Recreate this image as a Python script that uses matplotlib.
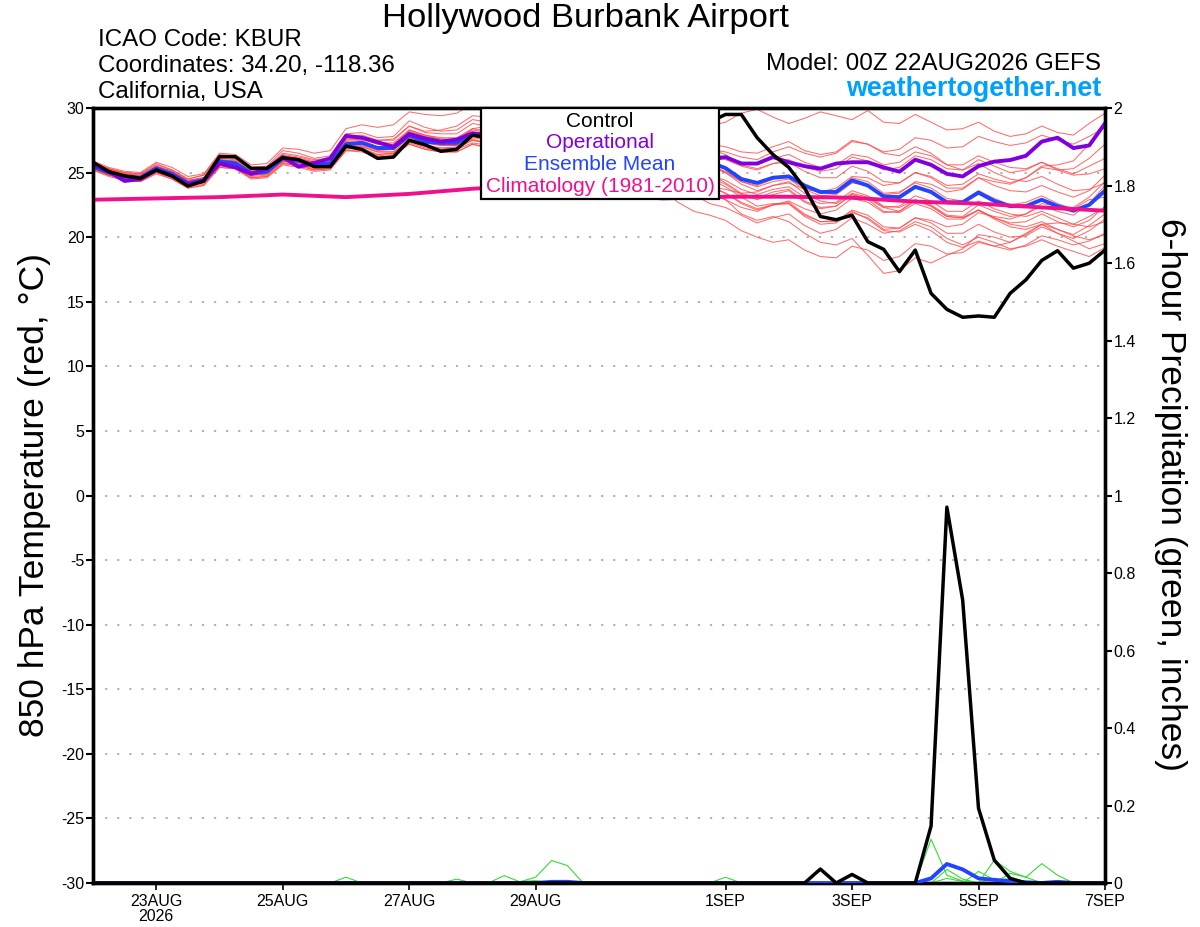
import numpy as np
import pandas as pd
import matplotlib
matplotlib.use('Agg')
import matplotlib.pyplot as plt
from matplotlib.patches import Rectangle

plt.rcParams['font.family'] = ['Liberation Sans', 'DejaVu Sans']

# ---------------- data ----------------
times = pd.date_range('2026-08-22 00:00', periods=65, freq='6h')
clim_times = pd.date_range('2026-08-22', periods=17, freq='D')

tick_dates = pd.to_datetime(['2026-08-23', '2026-08-25', '2026-08-27', '2026-08-29',
                             '2026-09-01', '2026-09-03', '2026-09-05', '2026-09-07'])
tick_labels = ['23AUG\n2026', '25AUG', '27AUG', '29AUG', '1SEP', '3SEP', '5SEP', '7SEP']

temp_ticks = [-30, -25, -20, -15, -10, -5, 0, 5, 10, 15, 20, 25, 30]
precip_ticks = [0, 0.2, 0.4, 0.6, 0.8, 1.0, 1.2, 1.4, 1.6, 1.8, 2.0]
precip_tick_labels = ['0', '0.2', '0.4', '0.6', '0.8', '1', '1.2', '1.4', '1.6', '1.8', '2']

control_temp = [25.8, 25.07, 24.74, 24.56, 25.2, 24.74, 23.96, 24.35, 26.23, 26.23, 25.33, 25.33, 26.15,
                26.0, 25.46, 25.46, 27.05, 26.8, 26.1, 26.2, 27.5, 27.15, 26.65, 26.8, 27.9, 27.7,
                27.3, 27.6, 28.2, 27.8, 27.6, 28.1, 28.5, 28.3, 28.6, 28.9, 29.0, 28.7, 28.9,
                28.9, 29.5, 29.5, 27.7, 26.4, 25.4, 23.8, 21.6, 21.35, 21.7, 19.65, 19.06, 17.33,
                19.0, 15.65, 14.41, 13.8, 13.9, 13.8, 15.65, 16.7, 18.2, 18.95, 17.6, 17.98, 19.0]

operational_temp = [25.6, 25.07, 24.35, 24.5, 25.2, 24.75, 24.1, 24.35, 25.7, 25.4, 24.9, 25.3, 26.2,
                    25.45, 25.75, 26.1, 27.85, 27.7, 27.35, 27.0, 28.0, 27.65, 27.4, 27.55, 28.05, 27.9,
                    27.6, 27.8, 28.1, 27.7, 27.5, 27.8, 28.0, 27.6, 27.2, 27.0, 26.8, 26.4, 26.1,
                    26.0, 26.2, 25.7, 25.7, 26.2, 25.8, 25.5, 25.3, 25.7, 25.8, 25.8, 25.4, 25.07,
                    26.0, 25.6, 24.9, 24.7, 25.5, 25.85, 25.97, 26.3, 27.4, 27.7, 26.9, 27.1, 28.8]

ens_mean_temp = [25.46, 25.0, 24.7, 24.6, 25.33, 24.9, 24.17, 24.43, 25.85, 25.72, 24.94, 25.07, 26.1,
                 25.92, 25.59, 25.72, 27.2, 27.3, 26.9, 26.9, 27.9, 27.4, 27.3, 27.3, 28.0, 27.8,
                 27.4, 27.5, 27.9, 27.3, 27.1, 27.3, 27.6, 27.0, 26.8, 26.9, 27.2, 26.6, 26.3,
                 25.8, 25.35, 24.5, 24.2, 24.6, 24.7, 24.0, 23.5, 23.5, 24.4, 24.0, 23.15, 23.1,
                 23.9, 23.5, 22.7, 22.7, 23.45, 22.8, 22.4, 22.4, 22.9, 22.4, 22.05, 22.5, 23.6]

climatology_temp = [22.9, 23.0, 23.1, 23.3, 23.1, 23.35, 23.75, 24.0, 23.5, 23.0, 23.13, 23.13,
                    23.05, 22.75, 22.6, 22.3, 22.05]

member_temps = [
    [25.7, 25.3, 25.0, 24.9, 25.7, 25.2, 24.5, 24.8, 26.4, 26.3, 25.4, 25.5, 26.7,
     26.5, 26.1, 26.3, 28.0, 28.1, 27.7, 27.8, 29.0, 28.5, 28.2, 28.3, 29.1, 28.9,
     28.5, 28.7, 29.2, 28.6, 28.4, 28.7, 29.3, 28.8, 28.6, 28.9, 29.5, 29.1, 28.9,
     28.6, 28.9, 29.6, 29.9, 29.3, 28.8, 29.2, 29.7, 29.4, 29.1, 29.8, 28.9, 28.8,
     29.5, 28.9, 28.3, 28.4, 28.9, 28.2, 27.8, 28.0, 28.6, 28.1, 27.9, 28.8, 29.6],
    [25.4, 24.9, 24.6, 24.5, 25.1, 24.8, 24.0, 24.3, 25.6, 25.5, 24.8, 24.9, 25.9,
     25.8, 25.5, 25.6, 27.5, 27.6, 27.2, 27.0, 28.3, 27.9, 27.6, 27.5, 28.4, 28.6,
     28.2, 28.0, 28.6, 28.1, 27.7, 27.9, 28.4, 27.8, 27.2, 27.0, 27.3, 26.6, 26.1,
     25.6, 25.0, 24.1, 23.6, 24.0, 24.3, 23.4, 22.8, 22.6, 23.4, 23.1, 22.3, 22.0,
     22.9, 22.5, 21.7, 21.6, 22.5, 22.0, 21.6, 21.8, 22.4, 22.0, 21.7, 22.6, 24.0],
    [25.5, 25.1, 24.8, 24.6, 25.4, 25.0, 24.3, 24.5, 26.0, 25.8, 25.0, 25.1, 26.2,
     26.0, 25.7, 25.8, 27.0, 27.1, 26.7, 26.8, 27.7, 27.3, 27.1, 27.1, 27.8, 27.5,
     27.2, 27.3, 27.6, 27.0, 26.9, 27.1, 27.3, 26.8, 26.5, 26.7, 27.0, 26.4, 26.0,
     25.5, 25.0, 24.3, 24.0, 24.5, 24.8, 23.9, 23.4, 23.6, 24.6, 24.3, 23.4, 23.5,
     24.2, 23.8, 23.0, 22.8, 23.6, 23.0, 22.5, 22.7, 23.2, 22.6, 22.2, 22.9, 23.1],
    [25.3, 24.8, 24.5, 24.4, 25.0, 24.6, 23.9, 24.1, 25.5, 25.4, 24.6, 24.7, 25.7,
     25.6, 25.2, 25.3, 26.8, 26.9, 26.4, 26.5, 27.4, 27.0, 26.8, 26.9, 27.5, 27.3,
     26.9, 27.0, 27.3, 26.7, 26.4, 26.6, 26.9, 26.2, 25.7, 25.5, 25.6, 24.8, 24.2,
     23.5, 22.9, 21.8, 21.3, 21.6, 21.2, 20.3, 19.6, 19.4, 19.9, 18.6, 17.2, 17.4,
     18.4, 18.0, 18.6, 19.1, 20.2, 20.0, 19.6, 20.3, 21.0, 20.6, 20.2, 20.9, 21.8],
    [25.6, 25.0, 24.6, 24.4, 25.2, 24.7, 24.0, 24.2, 25.7, 25.5, 24.8, 24.9, 25.9,
     25.7, 25.4, 25.5, 27.1, 27.0, 26.6, 26.6, 27.6, 27.1, 26.9, 27.0, 27.6, 27.2,
     26.8, 26.6, 26.9, 26.1, 25.8, 25.9, 26.0, 25.2, 24.7, 24.6, 24.7, 23.9, 23.3,
     22.6, 22.3, 21.7, 21.1, 21.5, 21.8, 20.9, 20.3, 20.6, 21.5, 21.0, 20.3, 20.5,
     21.2, 20.8, 19.9, 19.4, 20.0, 19.6, 19.1, 19.3, 19.8, 19.3, 18.9, 18.5, 19.2],
    [25.8, 25.3, 24.9, 24.8, 25.5, 25.1, 24.4, 24.6, 26.1, 26.0, 25.2, 25.3, 26.3,
     26.1, 25.8, 26.0, 27.7, 27.8, 27.5, 27.6, 28.6, 28.2, 28.3, 28.6, 29.4, 29.3,
     29.0, 29.3, 29.8, 29.4, 29.0, 29.2, 29.5, 28.8, 28.3, 28.1, 28.2, 27.6, 27.0,
     26.4, 26.0, 25.5, 25.2, 25.7, 26.0, 25.4, 25.1, 25.3, 26.2, 25.9, 25.2, 25.4,
     26.3, 26.0, 25.3, 25.2, 26.0, 25.5, 25.0, 25.2, 25.8, 25.3, 24.9, 25.5, 26.1],
    [25.3, 24.8, 24.5, 24.4, 25.1, 24.7, 24.0, 24.2, 25.6, 25.4, 24.7, 24.8, 25.8,
     25.6, 25.3, 25.4, 26.9, 26.8, 26.4, 26.5, 27.3, 26.9, 26.7, 26.8, 27.3, 27.1,
     26.6, 26.8, 27.0, 26.4, 26.2, 26.4, 26.6, 26.0, 25.7, 25.8, 26.1, 25.5, 25.1,
     24.6, 24.1, 23.3, 22.9, 23.3, 23.6, 22.7, 22.2, 22.4, 23.3, 22.9, 22.0, 21.9,
     22.6, 22.2, 21.4, 21.4, 22.1, 21.5, 21.1, 21.2, 21.8, 21.2, 20.8, 21.3, 22.4],
    [25.6, 25.1, 24.8, 24.7, 25.4, 25.0, 24.3, 24.5, 25.9, 25.8, 25.1, 25.2, 26.2,
     26.0, 25.7, 25.8, 27.4, 27.5, 27.0, 27.1, 28.0, 27.6, 27.4, 27.4, 28.1, 27.9,
     27.5, 27.6, 28.0, 27.4, 27.2, 27.4, 27.7, 27.1, 26.8, 26.9, 27.1, 26.5, 26.1,
     25.5, 25.1, 24.3, 23.9, 24.3, 24.5, 23.7, 23.2, 23.3, 24.2, 24.0, 23.3, 23.4,
     24.3, 24.1, 23.5, 23.7, 24.6, 24.3, 24.1, 24.6, 25.5, 25.6, 25.9, 27.2, 29.0],
    [25.4, 25.0, 24.7, 24.5, 25.2, 24.8, 24.1, 24.3, 25.8, 25.6, 24.9, 25.0, 26.0,
     25.8, 25.5, 25.6, 27.2, 27.2, 26.8, 26.8, 27.8, 27.3, 27.2, 27.2, 27.9, 27.6,
     27.3, 27.3, 27.7, 27.1, 26.9, 27.1, 27.4, 26.7, 26.4, 26.5, 26.8, 26.0, 25.5,
     24.9, 24.2, 23.4, 23.0, 23.5, 23.7, 22.8, 22.3, 22.4, 23.3, 23.0, 22.3, 22.4,
     23.2, 22.8, 22.0, 22.0, 22.8, 22.2, 21.8, 21.6, 22.0, 21.5, 21.0, 20.8, 21.2],
    [25.7, 25.2, 24.9, 24.8, 25.5, 25.1, 24.4, 24.6, 26.0, 25.9, 25.2, 25.3, 26.4,
     26.2, 25.9, 26.0, 27.6, 27.7, 27.3, 27.3, 28.3, 27.9, 27.7, 27.7, 28.4, 28.2,
     27.9, 28.0, 28.3, 27.8, 27.6, 27.8, 28.1, 27.6, 27.4, 27.5, 27.8, 27.3, 27.0,
     26.5, 26.2, 25.8, 25.6, 26.1, 26.4, 25.8, 25.4, 25.6, 26.4, 26.2, 25.6, 25.8,
     26.6, 26.3, 25.6, 25.6, 26.3, 25.8, 25.4, 25.3, 25.8, 25.2, 24.8, 24.9, 25.3],
    [25.5, 25.0, 24.6, 24.5, 25.2, 24.8, 24.1, 24.3, 25.7, 25.6, 24.9, 25.0, 26.0,
     25.9, 25.6, 25.7, 27.2, 27.3, 26.9, 26.9, 27.8, 27.4, 27.3, 27.3, 27.9, 27.7,
     27.2, 27.3, 27.6, 27.0, 26.7, 26.9, 27.1, 26.4, 26.0, 25.9, 26.1, 25.3, 24.7,
     24.0, 23.4, 22.7, 22.2, 22.5, 22.6, 21.7, 21.2, 21.3, 22.0, 21.4, 20.5, 20.4,
     21.0, 20.5, 19.6, 19.2, 19.7, 19.3, 19.6, 20.2, 21.0, 21.1, 21.0, 21.6, 22.3],
    [25.4, 24.9, 24.7, 24.6, 25.3, 24.9, 24.2, 24.4, 25.9, 25.7, 25.0, 25.1, 26.1,
     25.9, 25.6, 25.7, 27.2, 27.3, 26.9, 26.9, 27.8, 27.3, 27.2, 27.2, 27.9, 27.6,
     27.2, 27.2, 27.4, 26.7, 26.3, 26.2, 26.3, 25.6, 25.1, 25.0, 25.2, 24.6, 24.3,
     23.9, 23.7, 23.4, 23.5, 24.0, 24.2, 23.7, 23.5, 23.8, 24.7, 24.6, 24.0, 24.2,
     25.0, 24.7, 24.0, 24.1, 24.9, 24.5, 24.2, 24.6, 25.4, 25.2, 25.3, 26.1, 27.2],
    [25.9, 25.4, 25.1, 25.0, 25.8, 25.4, 24.7, 24.9, 26.5, 26.4, 25.6, 25.7, 26.9,
     26.8, 26.5, 26.7, 28.4, 28.7, 28.5, 28.7, 29.7, 29.5, 29.4, 29.6, 30.3, 30.2,
     29.7, 29.5, 29.8, 29.1, 28.7, 28.8, 29.0, 28.4, 28.0, 28.1, 28.4, 27.9, 27.6,
     27.2, 27.0, 26.6, 26.5, 27.0, 27.4, 26.7, 26.4, 26.6, 27.5, 27.2, 26.5, 26.3,
     27.0, 26.5, 25.6, 25.2, 25.7, 25.0, 24.5, 24.3, 24.7, 24.1, 23.6, 23.7, 24.2],
    [25.2, 24.7, 24.4, 24.3, 25.0, 24.5, 23.8, 24.0, 25.4, 25.3, 24.5, 24.6, 25.6,
     25.4, 25.1, 25.2, 26.7, 26.7, 26.3, 26.4, 27.2, 26.8, 26.6, 26.6, 27.2, 26.9,
     26.4, 26.3, 26.5, 25.8, 25.4, 25.3, 25.4, 24.6, 24.0, 23.7, 23.6, 22.7, 22.0,
     21.7, 21.3, 20.5, 20.0, 19.6, 19.8, 19.0, 18.5, 18.4, 19.3, 19.0, 18.2, 18.5,
     19.5, 19.3, 18.7, 18.8, 19.6, 19.3, 19.0, 19.4, 20.1, 19.8, 19.4, 19.7, 20.3],
    [25.6, 25.1, 24.8, 24.6, 25.3, 24.9, 24.2, 24.4, 25.8, 25.7, 24.9, 25.0, 26.0,
     25.8, 25.5, 25.6, 27.1, 27.2, 26.8, 26.8, 27.7, 27.3, 27.1, 27.1, 27.7, 27.5,
     27.0, 27.1, 27.4, 26.8, 26.5, 26.7, 27.0, 26.3, 26.0, 26.1, 26.4, 25.7, 25.3,
     24.8, 24.4, 23.7, 23.3, 23.7, 23.9, 23.1, 22.6, 22.7, 23.6, 23.2, 22.4, 22.3,
     22.9, 22.4, 21.6, 21.5, 22.1, 21.4, 20.8, 20.6, 21.0, 20.3, 19.7, 19.1, 19.5],
    [25.8, 25.3, 25.0, 24.9, 25.6, 25.2, 24.5, 24.8, 26.2, 26.1, 25.3, 25.4, 26.5,
     26.3, 26.0, 26.1, 27.8, 27.9, 27.5, 27.5, 28.6, 28.1, 28.0, 28.0, 28.8, 28.6,
     28.3, 28.4, 28.8, 28.2, 28.0, 28.2, 28.5, 27.9, 27.7, 27.8, 28.1, 27.5, 27.2,
     26.8, 26.4, 25.6, 25.3, 25.7, 25.8, 25.1, 24.6, 24.6, 25.5, 25.1, 24.3, 24.2,
     25.0, 24.6, 23.8, 23.8, 24.6, 24.0, 23.6, 23.5, 24.0, 23.5, 23.1, 23.6, 24.8],
    [25.2, 24.8, 24.5, 24.3, 24.9, 24.5, 23.8, 24.0, 25.4, 25.3, 24.6, 24.7, 25.7,
     25.5, 25.2, 25.3, 26.7, 26.6, 26.2, 26.3, 27.2, 26.8, 26.6, 26.6, 27.2, 26.9,
     26.4, 26.5, 26.8, 26.1, 25.9, 26.1, 26.3, 25.6, 25.3, 25.3, 25.5, 24.8, 24.4,
     23.9, 23.4, 22.6, 22.1, 22.5, 22.7, 21.8, 21.2, 21.2, 22.1, 21.7, 20.8, 20.7,
     21.5, 21.1, 20.3, 20.3, 21.0, 20.4, 20.0, 20.1, 20.8, 20.3, 19.9, 20.5, 21.4],
    [25.5, 25.0, 24.7, 24.6, 25.3, 24.9, 24.2, 24.4, 25.9, 25.7, 25.0, 25.1, 26.1,
     26.0, 25.7, 25.8, 27.3, 27.4, 27.0, 27.0, 28.0, 27.5, 27.4, 27.4, 28.0, 27.8,
     27.5, 27.5, 27.8, 27.2, 26.9, 27.0, 27.2, 26.5, 26.1, 26.0, 26.2, 25.5, 25.0,
     24.5, 23.9, 23.1, 22.4, 22.6, 22.6, 21.6, 21.0, 21.1, 21.9, 21.5, 20.6, 20.7,
     21.5, 21.3, 20.8, 21.0, 21.9, 21.6, 21.4, 21.8, 22.6, 22.4, 22.3, 23.1, 24.3],
    [25.6, 25.2, 24.9, 24.7, 25.4, 25.0, 24.3, 24.6, 26.0, 25.9, 25.1, 25.2, 26.3,
     26.1, 25.8, 25.9, 27.6, 27.6, 27.2, 27.2, 28.2, 27.8, 27.6, 27.6, 28.3, 28.1,
     27.8, 27.9, 28.3, 27.7, 27.5, 27.7, 28.0, 27.4, 27.2, 27.4, 27.8, 27.3, 27.1,
     26.8, 26.6, 26.2, 26.0, 26.6, 27.0, 26.5, 26.2, 26.5, 27.4, 27.2, 26.6, 26.8,
     27.7, 27.5, 26.9, 27.0, 27.8, 27.4, 27.1, 27.3, 27.9, 27.5, 27.2, 27.8, 28.5],
    [25.4, 24.9, 24.6, 24.5, 25.1, 24.7, 24.0, 24.3, 25.7, 25.5, 24.8, 24.9, 25.9,
     25.7, 25.4, 25.5, 27.0, 27.0, 26.6, 26.6, 27.5, 27.1, 26.9, 26.9, 27.5, 27.3,
     26.9, 26.9, 27.1, 26.5, 26.2, 26.3, 26.5, 25.8, 25.3, 25.2, 25.3, 24.6, 24.0,
     23.4, 22.9, 22.3, 22.0, 22.5, 22.8, 22.2, 21.8, 22.1, 23.0, 22.7, 21.9, 22.0,
     22.8, 22.4, 21.6, 21.5, 22.1, 21.5, 21.0, 20.8, 21.2, 20.6, 20.1, 19.8, 20.2],
]

# 6-hour precipitation (inches): non-zero values keyed by 6-hour step index
control_precip_nonzero = {46: 0.036, 48: 0.022, 53: 0.147, 54: 0.97, 55: 0.73,
                          56: 0.193, 57: 0.059, 58: 0.012}
ens_mean_precip_nonzero = {29: 0.003, 30: 0.003, 53: 0.012, 54: 0.049, 55: 0.035,
                           56: 0.012, 57: 0.008, 58: 0.005, 59: 0.002, 61: 0.003}
member_precip_nonzero = [
    {16: 0.015, 53: 0.113, 54: 0.02, 55: 0.005},
    {23: 0.01, 54: 0.035, 55: 0.01},
    {26: 0.019, 27: 0.003, 28: 0.015, 29: 0.058, 30: 0.045},
    {27: 0.004, 28: 0.006, 56: 0.03, 57: 0.008, 58: 0.01},
    {40: 0.015, 57: 0.059, 58: 0.03, 59: 0.015},
    {58: 0.025, 59: 0.015, 60: 0.05, 61: 0.02},
    {54: 0.012, 55: 0.004, 57: 0.012},
]


def expand(nonzero, n=len(times)):
    arr = np.zeros(n)
    for k, v in nonzero.items():
        arr[k] = v
    return arr


# ---------------- figure ----------------
W, H = 1200, 927
fig = plt.figure(figsize=(W / 100, H / 100), dpi=100)
L, R, T, B = 93, 1105, 108, 883
ax = fig.add_axes([L / W, 1 - B / H, (R - L) / W, (B - T) / H])
ax2 = ax.twinx()

red = '#ff4848'
for m in member_temps:
    ax.plot(times, m, color=red, lw=0.75, alpha=0.8, zorder=2)
ax.plot(times, ens_mean_temp, color='#2244ff', lw=2.8, zorder=4, solid_joinstyle='round')
ax.plot(times, operational_temp, color='#8000dd', lw=2.8, zorder=5, solid_joinstyle='round')
ax.plot(clim_times, climatology_temp, color='#f0108c', lw=2.8, zorder=6)
ax.plot(times, control_temp, color='black', lw=2.5, zorder=7)

for m in member_precip_nonzero:
    ax2.plot(times, expand(m), color='#33dd33', lw=0.8, zorder=2)
ax2.plot(times, expand(ens_mean_precip_nonzero), color='#2244ff', lw=2.8, zorder=4)
ax2.plot(times, expand(control_precip_nonzero), color='black', lw=2.5, zorder=5)

ax.set_xlim(times[0], times[-1])
ax.set_ylim(-30, 30)
ax2.set_ylim(0, 2)

ax.set_yticks(temp_ticks)
ax.set_yticklabels([str(t) for t in temp_ticks])
ax2.set_yticks(precip_ticks)
ax2.set_yticklabels(precip_tick_labels)
ax.set_xticks(tick_dates)
ax.set_xticklabels(tick_labels)

ax.tick_params(axis='y', direction='out', length=5, width=1.5, labelsize=11.5, pad=1)
ax2.tick_params(axis='y', direction='out', length=5, width=1.5, labelsize=11.5, pad=1)
ax.tick_params(axis='x', direction='out', length=5, width=1.2, labelsize=11.5, pad=3)
for lab in ax.get_xticklabels():
    lab.set_linespacing(1.0)

ax.yaxis.grid(True, linestyle=(0, (1.2, 5.5)), color='#aaaaaa', linewidth=1.3)
ax.set_axisbelow(True)

for a in (ax, ax2):
    for s in a.spines.values():
        s.set_linewidth(2.4)
        s.set_color('black')

# legend box
lx0 = (481 - L) / (R - L)
lx1 = (719 - L) / (R - L)
ly0 = (B - 199) / (B - T)
ax2.add_patch(Rectangle((lx0, ly0), lx1 - lx0, 1 - ly0, transform=ax2.transAxes,
                        facecolor='white', edgecolor='black', lw=1.6, zorder=20, clip_on=False))
leg_items = [('Control', 'black', 121), ('Operational', '#8000dd', 142),
             ('Ensemble Mean', '#2244ff', 164), ('Climatology (1981-2010)', '#f0108c', 186)]
for txt, col, yy in leg_items:
    ax2.text((lx0 + lx1) / 2, (B - yy) / (B - T), txt, color=col, ha='center', va='center',
             fontsize=15, transform=ax2.transAxes, zorder=21)

# header texts
fig.text(586 / W, 1 - 18 / H, 'Hollywood Burbank Airport', ha='center', va='center', fontsize=24.8)
fig.text(98 / W, 1 - 40 / H, 'ICAO Code: KBUR', ha='left', va='center', fontsize=17.4)
fig.text(98 / W, 1 - 66 / H, 'Coordinates: 34.20, -118.36', ha='left', va='center', fontsize=17.4)
fig.text(98 / W, 1 - 92 / H, 'California, USA', ha='left', va='center', fontsize=17.4)
fig.text(1101 / W, 1 - 64 / H, 'Model: 00Z 22AUG2026 GEFS', ha='right', va='center', fontsize=17.5)
fig.text(1101 / W, 1 - 89 / H, 'weathertogether.net', ha='right', va='center', fontsize=19.4,
         fontweight='bold', color='#00a0ff')

fig.text(35 / W, 1 - 495 / H, '850 hPa Temperature (red, °C)', rotation=90,
         ha='center', va='center', fontsize=25.5)
fig.text(1170 / W, 1 - 495 / H, '6-hour Precipitation (green, inches)', rotation=270,
         ha='center', va='center', fontsize=25.5)

fig.savefig('out.png', dpi=100)
